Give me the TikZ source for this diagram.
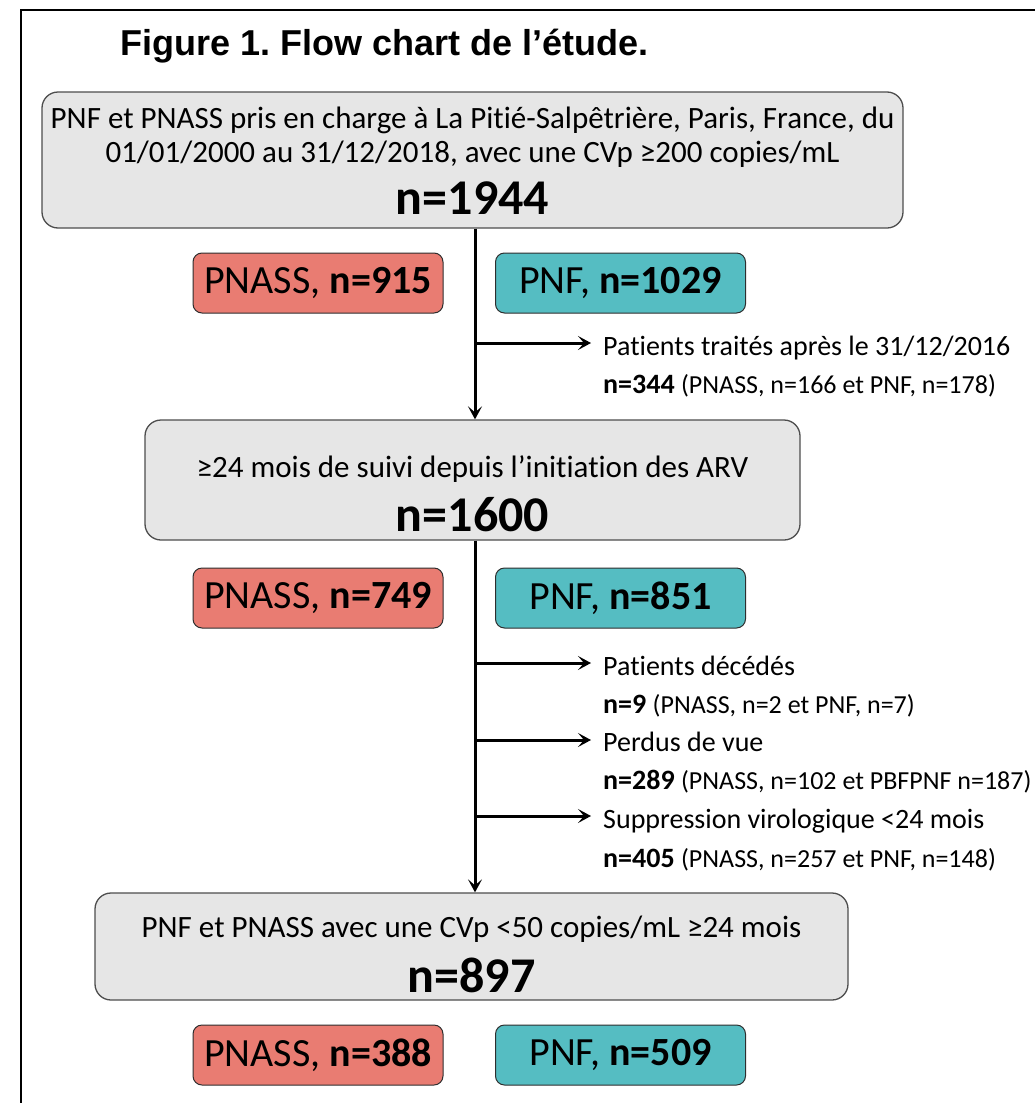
\documentclass[tikz,border=0pt]{standalone}
\usepackage{fontspec}
\setmainfont{Carlito}[Ligatures=NoCommon]
\newfontfamily\titlefont{Liberation Sans}
\usetikzlibrary{arrows.meta}
\definecolor{cCinza}{HTML}{E6E6E6}
\definecolor{cBorda}{HTML}{4D4D4D}
\definecolor{cSalmao}{HTML}{E97C72}
\definecolor{cTurq}{HTML}{55BDC2}
\newcommand{\petit}{\fontsize{26}{28}\selectfont}
\frenchspacing

\begin{document}
\begin{tikzpicture}[
  x=1pt,y=-1pt,
  etapa/.style={draw=cBorda,fill=cCinza,rounded corners=16pt,line width=1.3pt,inner sep=0pt},
  grp/.style={draw=cBorda!60!black,rounded corners=9pt,line width=1pt,inner sep=0pt,
              minimum width=250pt,minimum height=60pt,font=\fontsize{40}{46}\selectfont},
  pnass/.style={grp,fill=cSalmao},
  pnf/.style={grp,fill=cTurq},
  txt/.style={anchor=base,inner sep=0pt,font=\fontsize{31}{34}\selectfont},
  num/.style={anchor=base,inner sep=0pt,font=\fontsize{50}{56}\selectfont\bfseries},
  exc/.style={anchor=base west,inner sep=0pt,font=\fontsize{28}{32}\selectfont},
  ar/.style={-{Stealth[length=13pt,width=14pt,inset=6pt]},line width=3pt}
]
\useasboundingbox (0,0) rectangle (1035,1103);
\clip (0,0) rectangle (1035,1103);
\draw[line width=2.5pt] (21,10) rectangle (1060,1130);

% ---- titre
\node[anchor=base west,inner sep=0pt,font=\titlefont\bfseries\fontsize{36}{40}\selectfont] (tit) at (120,55)
  {Figure 1. Flow chart de l’étude.};

% ---- etape 1
\node[etapa,minimum width=861pt,minimum height=136pt] (b1) at (472.5,160) {};
\node[txt] (b1a) at (472.5,128) {PNF et PNASS pris en charge à La Pitié-Salpêtrière, Paris, France, du};
\node[txt] (b1b) at (472.5,162) {01/01/2000 au 31/12/2018, avec une CVp ≥200 copies/mL};
\node[num] (b1n) at (472.5,214) {n=1944};
\node[pnass] (g1a) at (318,283) {PNASS, \textbf{n=915}};
\node[pnf]   (g1b) at (620.5,283) {PNF, \textbf{n=1029}};

% ---- etape 2
\node[etapa,minimum width=655pt,minimum height=120pt] (b2) at (472.5,480) {};
\node[txt] (b2a) at (472.5,477) {≥24 mois de suivi depuis l’initiation des ARV};
\node[num] (b2n) at (472.5,531) {n=1600};
\node[pnass] (g2a) at (318,598) {PNASS, \textbf{n=749}};
\node[pnf]   (g2b) at (620.5,598) {PNF, \textbf{n=851}};

% ---- etape 3
\node[etapa,minimum width=753pt,minimum height=107pt] (b3) at (471.5,946.5) {};
\node[txt] (b3a) at (471.5,937) {PNF et PNASS avec une CVp <50 copies/mL ≥24 mois};
\node[num] (b3n) at (471.5,992) {n=897};
\node[pnass] (g3a) at (318,1055) {PNASS, \textbf{n=388}};
\node[pnf]   (g3b) at (620.5,1055) {PNF, \textbf{n=509}};

% ---- exclusions
\node[exc] (e1)  at (603,355) {Patients traités après le 31/12/2016};
\node[exc] (e1n) at (603,393) {\textbf{n=344} {\petit (PNASS, n=166 et PNF, n=178)}};
\node[exc] (e2)  at (603,675) {Patients décédés};
\node[exc] (e2n) at (603,713) {\textbf{n=9} {\petit (PNASS, n=2 et PNF, n=7)}};
\node[exc] (e3)  at (603,751) {Perdus de vue};
\node[exc] (e3n) at (603,789) {\textbf{n=289} {\petit (PNASS, n=102 et PBFPNF n=187)}};
\node[exc] (e4)  at (603,828) {Suppression virologique <24 mois};
\node[exc] (e4n) at (603,867) {\textbf{n=405} {\petit (PNASS, n=257 et PNF, n=148)}};

% ---- fleches
\coordinate (c1) at (475,343);
\coordinate (c2) at (475,663);
\coordinate (c3) at (475,740);
\coordinate (c4) at (475,816);
\draw[ar] (b1.south -| c1) -- (b2.north -| c1);
\draw[ar] (b2.south -| c1) -- (b3.north -| c1);
\draw[ar,shorten >=12pt] (c1) -- (c1 -| e1.west);
\draw[ar,shorten >=12pt] (c2) -- (c2 -| e2.west);
\draw[ar,shorten >=12pt] (c3) -- (c3 -| e3.west);
\draw[ar,shorten >=12pt] (c4) -- (c4 -| e4.west);
\end{tikzpicture}
\end{document}
